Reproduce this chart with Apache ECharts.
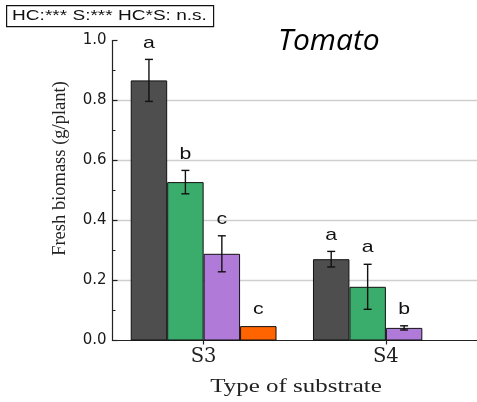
<!DOCTYPE html>
<html>
<head>
<meta charset="utf-8">
<script src="https://cdn.jsdelivr.net/npm/echarts@6/dist/echarts.min.js"></script>
<style>html,body{margin:0;padding:0;background:#fff;}#c{width:477px;height:402px;}</style>
</head>
<body>
<div id="c"></div>
<script>
// ---- data ----
const categories = ['S3', 'S4'];
const seriesNames = ['Treatment 1', 'Treatment 2', 'Treatment 3', 'Treatment 4'];
const meanGray   = [0.867, 0.271];
const meanGreen  = [0.528, 0.179];
const meanPurple = [0.289, 0.042];
const meanOrange = [0.048, null];
const errGray    = [0.070, 0.026];
const errGreen   = [0.039, 0.075];
const errPurple  = [0.060, 0.007];
const errOrange  = [0, null];
const letterGray   = ['a', 'a'];
const letterGreen  = ['b', 'a'];
const letterPurple = ['c', 'b'];
const letterOrange = ['c', ''];
const yTickValues = [0, 0.2, 0.4, 0.6, 0.8, 1.0];
const statsText = 'HC:*** S:*** HC*S: n.s.';
const cropName = 'Tomato';
const yTitle = 'Fresh biomass (g/plant)';
const xTitle = 'Type of substrate';

const means = [meanGray, meanGreen, meanPurple, meanOrange];
const errs = [errGray, errGreen, errPurple, errOrange];
const letters = [letterGray, letterGreen, letterPurple, letterOrange];
const colors = ['#4e4e4e', '#3aac6c', '#b07ad9', '#ff6400'];

const errData = [];
const errLetters = [];
means.forEach((arr, s) => {
  arr.forEach((v, i) => {
    if (v === null) return;
    errData.push([i, v, errs[s][i], s]);
    errLetters.push(letters[s][i]);
  });
});

const chart = echarts.init(document.getElementById('c'), null, {renderer: 'canvas'});

const barSeries = means.map((arr, s) => ({
  name: seriesNames[s],
  type: 'bar',
  data: arr.map(v => v === null ? '-' : v),
  barGap: '0%',
  barCategoryGap: '20%',
  itemStyle: {color: colors[s], borderColor: '#111', borderWidth: 1},
  emphasis: {disabled: true},
  z: 2
}));

const errSeries = {
  type: 'custom',
  data: errData,
  encode: {x: 0, y: 1},
  z: 5,
  silent: true,
  renderItem: function (params, api) {
    const cat = api.value(0), mean = api.value(1), err = api.value(2), s = api.value(3);
    const band = api.size([1, 0])[0];
    const bw = band * 0.8 / 4;
    const base = api.coord([cat, 0]);
    const x = base[0] + (s - 1.5) * bw;
    const top = api.coord([cat, mean + err])[1];
    const bot = api.coord([cat, mean - err])[1];
    const children = [];
    const st = {stroke: '#111', lineWidth: 1.4};
    if (err > 0) {
      children.push({type: 'line', shape: {x1: x, y1: top, x2: x, y2: bot}, style: st});
      children.push({type: 'line', shape: {x1: x - 4, y1: top, x2: x + 4, y2: top}, style: st});
      children.push({type: 'line', shape: {x1: x - 4, y1: bot, x2: x + 4, y2: bot}, style: st});
    }
    children.push({
      type: 'text',
      x: x, y: top - 8,
      scaleX: 1.25,
      style: {
        text: errLetters[params.dataIndex],
        fill: '#111',
        font: '17px "Liberation Sans", Arial, sans-serif',
        textAlign: 'center',
        textVerticalAlign: 'bottom'
      }
    });
    return {type: 'group', children: children};
  }
};

const option = {
  backgroundColor: '#fff',
  animation: false,
  grid: {left: 112.5, top: 40.5, width: 366.5, height: 300, containLabel: false},
  xAxis: {
    type: 'category',
    data: categories,
    boundaryGap: true,
    axisLine: {show: true, lineStyle: {color: '#222', width: 1.2}},
    axisTick: {show: true, alignWithLabel: true, length: 4, inside: false, lineStyle: {color: '#222', width: 1.2}},
    axisLabel: {
      color: '#222', fontFamily: '"DejaVu Serif", serif', fontSize: 19.5, margin: 6
    },
    splitLine: {show: false}
  },
  yAxis: {
    type: 'value',
    min: 0, max: 1, interval: 0.2,
    axisLine: {show: true, lineStyle: {color: '#222', width: 1.2}},
    axisTick: {show: true, inside: true, length: 5, lineStyle: {color: '#222', width: 1.2}},
    minorTick: {show: true, splitNumber: 2, length: 3, lineStyle: {color: '#222', width: 1}},
    axisLabel: {
      color: '#1a1a1a', fontFamily: '"DejaVu Sans", sans-serif', fontSize: 15, margin: 6,
      formatter: v => yTickValues.some(t => Math.abs(t - v) < 1e-9) ? v.toFixed(1) : ''
    },
    splitLine: {show: true, showMinLine: false, showMaxLine: false, lineStyle: {color: '#cfcfcf', width: 1.3}}
  },
  graphic: [
    {
      type: 'rect', left: 6, top: 5,
      shape: {x: 0, y: 0, width: 207, height: 21},
      style: {fill: '#fff', stroke: '#111', lineWidth: 1.2}, z: 10
    },
    {
      type: 'text', x: 109.5, y: 16, scaleX: 1.27, z: 11,
      style: {text: statsText, fill: '#111', font: '15px "Liberation Sans", Arial, sans-serif',
              textAlign: 'center', textVerticalAlign: 'middle'}
    },
    {
      type: 'text', x: 278, y: 41, z: 11,
      style: {text: cropName, fill: '#000', font: 'italic 30px "Open Sans", sans-serif',
              textAlign: 'left', textVerticalAlign: 'middle'}
    },
    {
      type: 'text', x: 60, y: 168.5, rotation: Math.PI / 2, z: 11,
      style: {text: yTitle, fill: '#222', font: '18.5px "Liberation Serif", "Times New Roman", serif',
              textAlign: 'center', textVerticalAlign: 'middle'}
    },
    {
      type: 'text', x: 296, y: 387, scaleX: 1.28, z: 11,
      style: {text: xTitle, fill: '#222', font: '19.5px "Liberation Serif", "Times New Roman", serif',
              textAlign: 'center', textVerticalAlign: 'middle'}
    }
  ],
  series: barSeries.concat([errSeries])
};

chart.setOption(option);
</script>
</body>
</html>
